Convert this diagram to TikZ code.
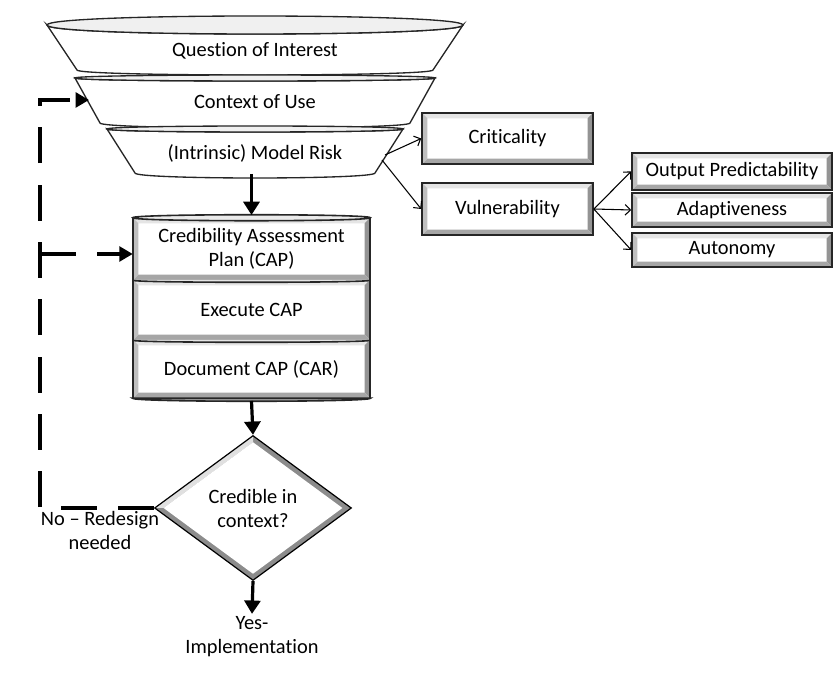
\documentclass[tikz,border=0pt]{standalone}
\usepackage{fontspec}
\setmainfont{Carlito}[Ligatures=NoCommon]
\usetikzlibrary{arrows.meta,shapes.geometric,calc,backgrounds}
\pgfdeclarehorizontalshading{funnelshade}{100bp}{color(0bp)=(black!45); color(8bp)=(black!15); color(20bp)=(white); color(82bp)=(white); color(93bp)=(black!15); color(100bp)=(black!40)}
\newcommand\fs{\fontsize{15.3}{18}\selectfont}
\newcommand\bvd{4pt}
% funnel segment: #1 top y, #2 top half width, #3 top ry, #4 bottom y, #5 bottom half width, #6 bottom sag
\newcommand\fseg[6]{%
  \shadedraw[shading=funnelshade, draw=black!85, line width=1pt]
    ({255-#2},#1) .. controls ({255-#2},{#1+1.333*#3}) and ({255+#2},{#1+1.333*#3}) .. ({255+#2},#1)
    -- ({255+#5},#4) .. controls ({255+#5},{#4+1.333*#6}) and ({255-#5},{#4+1.333*#6}) .. ({255-#5},#4) -- cycle;
  \filldraw[fill=black!6, draw=black!85, line width=1pt]
    ({255-#2},#1) .. controls ({255-#2},{#1+1.333*#3}) and ({255+#2},{#1+1.333*#3}) .. ({255+#2},#1)
    .. controls ({255+#2},{#1-1.333*#3}) and ({255-#2},{#1-1.333*#3}) .. ({255-#2},#1) -- cycle;
}
\tikzset{
  bevel/.style={fill=white, path picture={
    \path (path picture bounding box.north west) coordinate (@nw)
          (path picture bounding box.north east) coordinate (@ne)
          (path picture bounding box.south east) coordinate (@se)
          (path picture bounding box.south west) coordinate (@sw);
    \fill[black!10] (@nw) -- (@ne) -- ([shift={(-\bvd,-\bvd)}]@ne) -- ([shift={(\bvd,-\bvd)}]@nw) -- cycle;
    \fill[black!42] (@ne) -- (@se) -- ([shift={(-\bvd,\bvd)}]@se) -- ([shift={(-\bvd,-\bvd)}]@ne) -- cycle;
    \fill[black!35] (@se) -- (@sw) -- ([shift={(\bvd,\bvd)}]@sw) -- ([shift={(-\bvd,\bvd)}]@se) -- cycle;
    \fill[black!25] (@sw) -- (@nw) -- ([shift={(\bvd,-\bvd)}]@nw) -- ([shift={(\bvd,\bvd)}]@sw) -- cycle;
  }},
  dbevel/.style={path picture={
    \coordinate (@c) at (path picture bounding box.center);
    \coordinate (@n) at (path picture bounding box.north);
    \coordinate (@s) at (path picture bounding box.south);
    \coordinate (@e) at (path picture bounding box.east);
    \coordinate (@w) at (path picture bounding box.west);
    \fill[black!45] (@n) -- (@e) -- (@s) -- (@w) -- cycle;
    \fill[black!12] (@w) -- (@n) -- ($(@c)!0.91!(@n)$) -- ($(@c)!0.91!(@w)$) -- cycle;
    \fill[white] ($(@c)!0.91!(@n)$) -- ($(@c)!0.91!(@e)$) -- ($(@c)!0.91!(@s)$) -- ($(@c)!0.91!(@w)$) -- cycle;
  }},
  box/.style={bevel, draw=black!85, line width=1.2pt, inner sep=0pt, font=\fs},
  cyl/.style={bevel, draw=none, minimum width=237*0.75pt, inner sep=0pt, font=\fs, align=center},
  lbl/.style={inner sep=2pt, font=\fs, align=center},
  bigarrow/.style={line width=2.4pt, -{Triangle[length=10pt,width=12pt]}},
  dasharrow/.style={line width=3pt, dash pattern=on 27pt off 16pt, -{Triangle[length=10pt,width=11pt]}},
  thinarrow/.style={line width=0.8pt, -{Straight Barb[length=4pt,width=8pt]}}
}
\begin{document}
\begin{tikzpicture}[x=0.75pt,y=-0.75pt]
\useasboundingbox (0,0) rectangle (840,680);
\fill[white] (0,0) rectangle (840,680);

% funnel
\fseg{25}{208}{9}{70}{178}{5}
\fseg{78}{180}{3}{123}{155}{5}
\fseg{129}{148}{3}{173}{120}{5}
\node[lbl] (q) at (255,51) {Question of Interest};
\node[lbl] (c) at (255,102) {Context of Use};
\node[lbl] (m) at (255,153) {(Intrinsic) Model Risk};

% cylinder stack
\node[cyl, minimum height=62*0.75pt] (cap) at (251.5,249) {Credibility Assessment\\Plan (CAP)};
\node[cyl, minimum height=60*0.75pt] (exec) at (251.5,310) {Execute CAP};
\node[cyl, minimum height=58*0.75pt] (doc) at (251.5,369) {Document CAP (CAR)};
\draw[line width=1.2pt, black!85] (cap.north west) -- (doc.south west);
\draw[line width=1.2pt, black!85] (cap.north east) -- (doc.south east);
\filldraw[fill=black!8, draw=black!85, line width=1.2pt] (cap.north west) .. controls +(0,4) and +(0,4) .. (cap.north east) .. controls +(0,-4) and +(0,-4) .. (cap.north west) -- cycle;
\draw[line width=1.2pt, black!85] (cap.south west) .. controls +(0,2.7) and +(0,2.7) .. (cap.south east);
\draw[line width=1.2pt, black!85] (exec.south west) .. controls +(0,2.7) and +(0,2.7) .. (exec.south east);
\filldraw[fill=black!35, draw=black!85, line width=1.2pt] (doc.south west) .. controls +(0,4) and +(0,4) .. (doc.south east) -- cycle;

% right boxes
\node[box, minimum width=171*0.75pt, minimum height=51*0.75pt] (crit) at (507.5,138.5) {Criticality};
\node[box, minimum width=171*0.75pt, minimum height=52*0.75pt] (vuln) at (507.5,209) {Vulnerability};
\node[box, minimum width=200*0.75pt, minimum height=37*0.75pt] (op) at (732,171.5) {Output Predictability};
\node[box, minimum width=200*0.75pt, minimum height=34*0.75pt] (ad) at (732,210) {Adaptiveness};
\node[box, minimum width=200*0.75pt, minimum height=34*0.75pt] (au) at (732,250) {Autonomy};

% decision
\node[diamond, draw=black, line width=0.9pt, dbevel, minimum width=197*0.75pt, minimum height=145*0.75pt, inner sep=0pt, font=\fs, align=center] (d) at (253,508) {Credible in\\context?};
\node[lbl] (no) at (100,530) {No -- Redesign\\needed};
\node[lbl] (yes) at (252,637) {Yes-\\Implementation};

% connectors
\coordinate (fb) at (251.5,174);
\coordinate (db) at (251.5,401);
\draw[bigarrow, shorten >=2pt] (fb) -- (cap.north);
\draw[bigarrow] (db) -- (d.north);
\draw[bigarrow] (d.south) -- (yes.north);

\coordinate (mr1) at (385,155);
\coordinate (mr2) at (382,160);
\draw[thinarrow] (mr1) -- (crit.west);
\draw[thinarrow] (mr2) -- (vuln.west);
\draw[thinarrow] (vuln.east) -- (op.west);
\draw[thinarrow] (vuln.east) -- (ad.west);
\draw[thinarrow] (vuln.east) -- (au.west);

\coordinate (j1) at (40,508);
\coordinate (j2) at (40,100);
\coordinate (j3) at (40,254);
\coordinate (cleft) at (89,100);
\draw[dasharrow] (d.west) -- (j1) -- (j2) -- (cleft);
\draw[dasharrow] (j3) -- (j3 -| cap.west);
\end{tikzpicture}
\end{document}
